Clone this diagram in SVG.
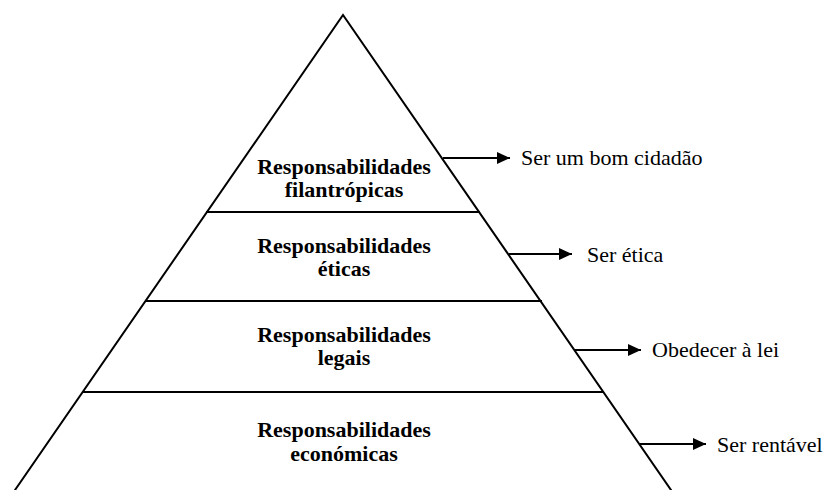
<svg xmlns="http://www.w3.org/2000/svg" width="827" height="490" viewBox="0 0 827 490">
  <style>
    .edge { stroke: #000; stroke-width: 2; fill: none; stroke-linecap: square; }
    .layer { font-family: "Liberation Serif", "Times New Roman", serif; font-weight: bold; font-size: 22px; fill: #000; text-anchor: middle; }
    .label { font-family: "Liberation Serif", "Times New Roman", serif; font-size: 22px; fill: #000; }
    .arrow { stroke: #000; stroke-width: 2; fill: none; }
  </style>
  <defs>
    <marker id="head" viewBox="0 0 13 12" refX="13" refY="6" markerWidth="13" markerHeight="12" markerUnits="userSpaceOnUse" orient="auto">
      <path d="M0,0 L13,6 L0,12 Z" fill="#000"/>
    </marker>
  </defs>
  <rect width="827" height="490" fill="#fff"/>

  <!-- pyramid outline -->
  <g id="pyramid">
    <polyline class="edge" points="15,490 343,15 671,490" stroke-linejoin="miter"/>
  </g>

  <!-- layers, top to bottom -->
  <g id="filantropicas">
    <text class="layer" x="344" y="174">Responsabilidades</text>
    <text class="layer" x="344" y="197">filantrópicas</text>
  </g>
  <g id="eticas">
    <line class="edge" x1="207" y1="212" x2="479" y2="212"/>
    <text class="layer" x="344" y="253">Responsabilidades</text>
    <text class="layer" x="344" y="276">éticas</text>
  </g>
  <g id="legais">
    <line class="edge" x1="146" y1="301" x2="541" y2="301"/>
    <text class="layer" x="344" y="342">Responsabilidades</text>
    <text class="layer" x="344" y="365">legais</text>
  </g>
  <g id="economicas">
    <line class="edge" x1="84" y1="392" x2="603" y2="392"/>
    <text class="layer" x="344" y="437">Responsabilidades</text>
    <text class="layer" x="344" y="461">económicas</text>
  </g>

  <!-- side labels -->
  <g id="cidadao"><text class="label" x="521" y="165">Ser um bom cidadão</text></g>
  <g id="etica"><text class="label" x="587" y="262">Ser ética</text></g>
  <g id="lei"><text class="label" x="652" y="357">Obedecer à lei</text></g>
  <g id="rentavel"><text class="label" x="717" y="452">Ser rentável</text></g>

  <!-- connectors -->
  <g id="connectors">
    <line class="arrow" x1="443" y1="158" x2="510" y2="158" marker-end="url(#head)"/>
    <line class="arrow" x1="509" y1="254" x2="572" y2="254" marker-end="url(#head)"/>
    <line class="arrow" x1="574" y1="350" x2="641" y2="350" marker-end="url(#head)"/>
    <line class="arrow" x1="640" y1="444" x2="706" y2="444" marker-end="url(#head)"/>
  </g>
</svg>
